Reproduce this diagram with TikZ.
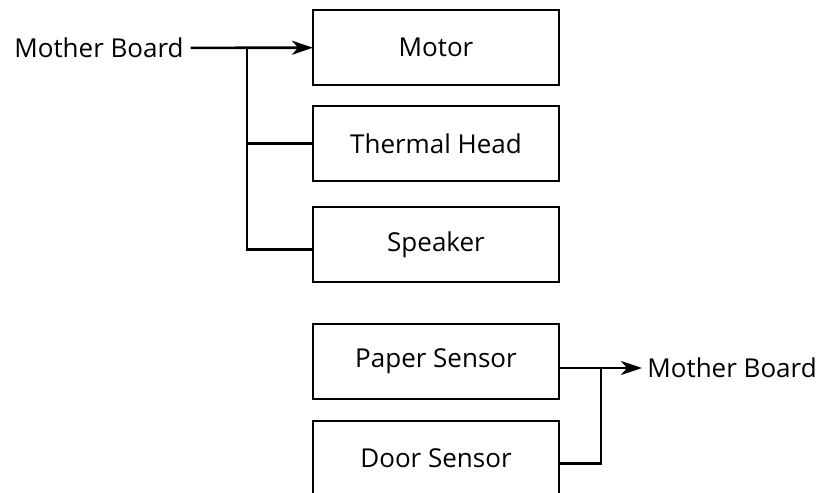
\documentclass[tikz,border=0pt]{standalone}
\usepackage{fontspec}
\setmainfont{Open Sans}
\usepackage{tikz}
\usetikzlibrary{positioning,arrows.meta}

\begin{document}
\begin{tikzpicture}[
  x=0.5pt, y=-0.5pt,
  box/.style={draw=black, line width=1.3pt, minimum width=123pt,
    minimum height=37.5pt, inner sep=0pt, outer sep=0pt,
    font=\fontsize{13}{15}\selectfont},
  lbl/.style={font=\fontsize{13}{15}\selectfont},
  ar/.style={-{Stealth[length=10.5pt,width=7pt,inset=3pt]}, line width=1.3pt},
  ln/.style={line width=1.3pt}
]
\clip (0,0) rectangle (816,493);
% output boxes
\node[box] (motor) at (436,47.5) {Motor};
\node[box, below=10.5pt of motor] (thermal) {Thermal Head};
\node[box, below=13pt of thermal] (speaker) {Speaker};
% input boxes
\node[box, below=21pt of speaker] (paper) {Paper Sensor};
\node[box, below=11pt of paper] (door) {Door Sensor};
\node[lbl] (mbin) at (99,48) {Mother Board};
\node[lbl, anchor=west, inner sep=2.5pt] (mbout) at (642,368) {Mother Board};
\coordinate (injoin) at (247,48);
\coordinate (outjoin) at (601,368);
\draw[ar] (mbin) -- (motor);
\draw[ln] (thermal.west) -- (thermal.west -| injoin);
\draw[ln] ([yshift=-2.5pt]speaker.west) -| (injoin);
\draw[ar] (paper.east |- outjoin) -- (mbout.west);
\draw[ln] ([yshift=-2.5pt]door.east) -| (outjoin);
\end{tikzpicture}
\end{document}
